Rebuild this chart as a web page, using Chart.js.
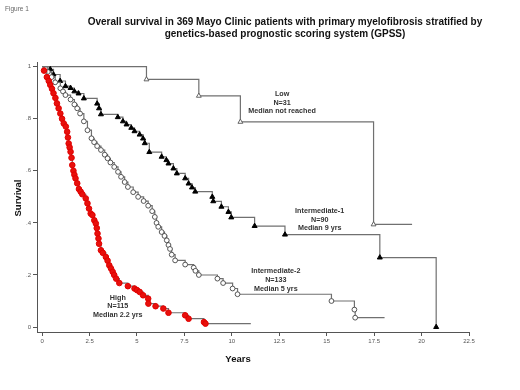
<!DOCTYPE html>
<html>
<head>
<meta charset="utf-8">
<script src="https://cdn.jsdelivr.net/npm/chart.js@4.4.1/dist/chart.umd.min.js"></script>
<style>
  html, body { margin: 0; padding: 0; background: #fff; }
  canvas { display: block; }
</style>
</head>
<body>
<canvas id="kmChart" width="520" height="390"></canvas>
<script>
// Kaplan-Meier steps: years and survival after each drop
const lowYears = [0, 5.5, 8.26, 10.45, 17.47, 19.5];
const lowSurv  = [1, 0.951, 0.888, 0.788, 0.394, 0.394];

const int1Years = [0, 0.43, 0.6, 0.95, 1.23, 1.5, 1.7, 1.92, 2.2, 2.9, 3.0, 3.1, 3.99, 4.26, 4.45, 4.7, 4.87, 5.14, 5.32, 5.41, 5.65,
  6.3, 6.55, 6.66, 6.92, 7.1, 7.54, 7.72, 7.9, 8.07, 8.97, 9.02, 9.45, 9.82, 9.97, 11.2, 12.8, 17.8, 20.77];
const int1Surv  = [1, 0.99, 0.97, 0.945, 0.925, 0.918, 0.905, 0.897, 0.878, 0.858, 0.84, 0.817, 0.806, 0.79, 0.778, 0.765, 0.752, 0.739, 0.724, 0.706, 0.672,
  0.654, 0.641, 0.628, 0.609, 0.59, 0.571, 0.551, 0.536, 0.52, 0.5, 0.483, 0.462, 0.442, 0.421, 0.388, 0.355, 0.267, 0.0];

const int2Years = [0, 0.3, 0.5, 0.69, 0.96, 1.1, 1.23, 1.5, 1.7, 1.85, 2.0, 2.2, 2.39, 2.6, 2.74, 2.9, 3.1, 3.3, 3.45, 3.6, 3.8, 4.0,
  4.16, 4.35, 4.52, 4.8, 5.06, 5.35, 5.59, 5.8, 5.94, 6.03, 6.12, 6.3, 6.45, 6.57, 6.66, 6.74, 6.83, 7.01, 7.54, 7.99, 8.08, 8.26,
  9.24, 9.54, 10.04, 10.3, 15.25, 16.46, 16.5, 18.05];
const int2Surv  = [1, 0.98, 0.96, 0.94, 0.917, 0.905, 0.891, 0.874, 0.855, 0.84, 0.82, 0.79, 0.756, 0.725, 0.71, 0.695, 0.68, 0.662, 0.648, 0.632, 0.615, 0.596,
  0.577, 0.557, 0.538, 0.518, 0.5, 0.484, 0.466, 0.445, 0.423, 0.4, 0.385, 0.365, 0.35, 0.333, 0.315, 0.3, 0.278, 0.256, 0.24, 0.228, 0.216, 0.2,
  0.186, 0.169, 0.148, 0.126, 0.1, 0.067, 0.036, 0.036];

const highYears = [0, 0.1, 0.25, 0.35, 0.43, 0.52, 0.6, 0.7, 0.78, 0.87, 0.96, 1.05, 1.14, 1.25, 1.32, 1.36, 1.4, 1.45, 1.5, 1.55, 1.59, 1.65,
  1.7, 1.76, 1.85, 1.94, 2.03, 2.12, 2.3, 2.39, 2.47, 2.56, 2.65, 2.75, 2.83, 2.88, 2.92, 2.97, 3.0, 3.1, 3.2, 3.36, 3.45, 3.54, 3.63,
  3.72, 3.8, 3.9, 4.07, 4.52, 4.87, 5.0, 5.14, 5.32, 5.59, 5.6, 5.98, 6.39, 6.66, 7.54, 7.72, 8.53, 8.61, 11.0];
const highSurv  = [1, 0.985, 0.96, 0.945, 0.93, 0.915, 0.898, 0.88, 0.859, 0.84, 0.82, 0.8, 0.782, 0.77, 0.75, 0.728, 0.705, 0.69, 0.673, 0.65, 0.622, 0.6,
  0.585, 0.571, 0.552, 0.53, 0.52, 0.51, 0.494, 0.475, 0.455, 0.436, 0.43, 0.41, 0.398, 0.38, 0.359, 0.34, 0.32, 0.295, 0.285, 0.269, 0.255, 0.237, 0.225,
  0.212, 0.2, 0.186, 0.169, 0.157, 0.148, 0.142, 0.135, 0.122, 0.109, 0.09, 0.08, 0.071, 0.055, 0.045, 0.032, 0.019, 0.013, 0.013];

const xTicks = [0, 2.5, 5, 7.5, 10, 12.5, 15, 17.5, 20, 22.5];
const yTicks = [0, 0.2, 0.4, 0.6, 0.8, 1];
const yTickLabels = ["0", ".2", ".4", ".6", ".8", "1"];

const titleLines = [
  "Overall survival in 369 Mayo Clinic patients with primary myelofibrosis stratified by",
  "genetics-based prognostic scoring system (GPSS)"
];
const lowText  = ["Low", "N=31", "Median not reached"];
const int1Text = ["Intermediate-1", "N=90", "Median 9 yrs"];
const int2Text = ["Intermediate-2", "N=133", "Median 5 yrs"];
const highText = ["High", "N=115", "Median 2.2 yrs"];

const FONT = "'Liberation Sans', Arial, sans-serif";

function toPoints(xs, ys) {
  return xs.map((t, i) => ({ x: t, y: ys[i] }));
}

// hide the marker on the start point (and on the trailing follow-up end)
function markerRadius(r, markLast) {
  return ctx => {
    const n = ctx.dataset.data.length;
    if (ctx.dataIndex === 0) return 0;
    if (!markLast && ctx.dataIndex === n - 1) return 0;
    return r;
  };
}

const figureText = {
  id: "figureText",
  afterDraw(chart) {
    const { ctx, scales: { x, y } } = chart;
    ctx.save();
    ctx.textBaseline = "middle";

    ctx.fillStyle = "#666";
    ctx.textAlign = "left";
    ctx.font = "6.5px " + FONT;
    ctx.fillText("Figure 1", 5, 9);

    ctx.fillStyle = "#111";
    ctx.textAlign = "center";
    ctx.font = "bold 10px " + FONT;
    ctx.fillText(titleLines[0], 285, 22);
    ctx.fillText(titleLines[1], 285, 34);

    ctx.font = "bold 9.5px " + FONT;
    ctx.fillText("Years", 238, 359);
    ctx.save();
    ctx.translate(18, 198);
    ctx.rotate(-Math.PI / 2);
    ctx.fillText("Survival", 0, 0);
    ctx.restore();

    ctx.fillStyle = "#333";
    ctx.font = "bold 7.2px " + FONT;
    const groups = [
      [lowText, 12.65, 0.895],
      [int1Text, 14.63, 0.445],
      [int2Text, 12.32, 0.214],
      [highText, 3.99, 0.113]
    ];
    groups.forEach(([lines, gx, gy]) => {
      const px = x.getPixelForValue(gx);
      const py = y.getPixelForValue(gy);
      lines.forEach((s, i) => ctx.fillText(s, px, py + i * 8.6));
    });
    ctx.restore();
  }
};

const lineColor = "#707070";

new Chart(document.getElementById("kmChart").getContext("2d"), {
  type: "line",
  data: {
    datasets: [
      {
        label: "High",
        data: toPoints(highYears, highSurv),
        stepped: true,
        borderColor: lineColor,
        borderWidth: 1.2,
        pointStyle: "circle",
        pointRadius: markerRadius(2.8, false),
        pointBackgroundColor: "#e8100c",
        pointBorderColor: "#e00000",
        pointBorderWidth: 1
      },
      {
        label: "Intermediate-2",
        data: toPoints(int2Years, int2Surv),
        stepped: true,
        borderColor: lineColor,
        borderWidth: 1.2,
        pointStyle: "circle",
        pointRadius: markerRadius(2.4, false),
        pointBackgroundColor: "#fff",
        pointBorderColor: "#444",
        pointBorderWidth: 0.9
      },
      {
        label: "Intermediate-1",
        data: toPoints(int1Years, int1Surv),
        stepped: true,
        borderColor: lineColor,
        borderWidth: 1.2,
        pointStyle: "triangle",
        pointRadius: markerRadius(2.9, true),
        pointBackgroundColor: "#000",
        pointBorderColor: "#000",
        pointBorderWidth: 1
      },
      {
        label: "Low",
        data: toPoints(lowYears, lowSurv),
        stepped: true,
        borderColor: lineColor,
        borderWidth: 1.2,
        pointStyle: "triangle",
        pointRadius: markerRadius(2.8, false),
        pointBackgroundColor: "#fff",
        pointBorderColor: "#555",
        pointBorderWidth: 0.9
      }
    ]
  },
  options: {
    responsive: false,
    animation: false,
    layout: { padding: { top: 62, right: 51, left: 0, bottom: 0 } },
    plugins: {
      legend: { display: false },
      tooltip: { enabled: false }
    },
    scales: {
      x: {
        type: "linear",
        min: -0.27,
        max: 22.5,
        afterFit: s => { s.height = 58; },
        afterBuildTicks: s => { s.ticks = xTicks.map(v => ({ value: v })); },
        grid: { drawOnChartArea: false, drawTicks: true, tickLength: 4, color: "#555" },
        border: { color: "#555", width: 1 },
        ticks: {
          padding: 2,
          color: "#555",
          font: { family: FONT, size: 6 },
          maxRotation: 0,
          callback: v => String(v)
        }
      },
      y: {
        type: "linear",
        min: -0.019,
        max: 1.018,
        afterFit: s => { s.width = 37; },
        afterBuildTicks: s => { s.ticks = yTicks.map(v => ({ value: v })); },
        grid: { drawOnChartArea: false, drawTicks: true, tickLength: 4, color: "#555" },
        border: { color: "#555", width: 1 },
        ticks: {
          padding: 2,
          color: "#555",
          font: { family: FONT, size: 6 },
          callback: v => yTickLabels[yTicks.indexOf(v)]
        }
      }
    }
  },
  plugins: [figureText]
});
</script>
</body>
</html>
